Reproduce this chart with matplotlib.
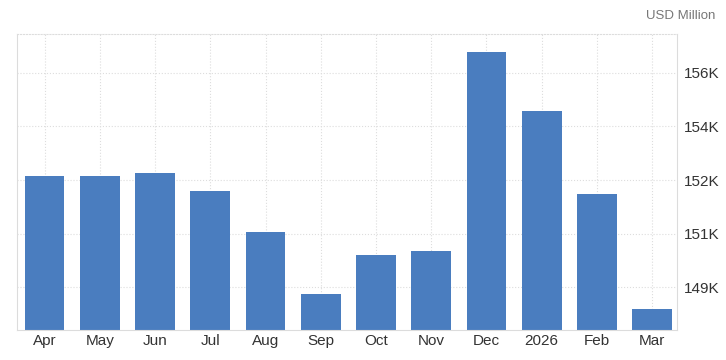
import matplotlib
matplotlib.use('Agg')
import matplotlib.pyplot as plt

# data (USD Million, thousands)
months = ['Apr', 'May', 'Jun', 'Jul', 'Aug', 'Sep', 'Oct', 'Nov', 'Dec', '2026', 'Feb', 'Mar']
values = [152.53, 152.53, 152.62, 152.05, 150.75, 148.79, 150.02, 150.15, 156.46, 154.59, 151.96, 148.31]
ytick_vals = [149.0, 150.7, 152.4, 154.1, 155.8]
ytick_labels = ['149K', '151K', '152K', '154K', '156K']

plt.rcParams['font.family'] = ['Liberation Sans', 'DejaVu Sans']

fig = plt.figure(figsize=(7.26, 3.6), dpi=100)
ax = fig.add_axes([0.0234, 0.0833, 0.9091, 0.8223])

x = range(len(months))
ax.bar(x, values, width=0.72, color='#4a7dbf', zorder=2)

ax.set_xlim(-0.5, 11.45)
ax.set_ylim(147.65, 157.03)
ax.set_xticks(list(x))
ax.set_xticklabels(months)
ax.set_yticks(ytick_vals)
ax.set_yticklabels(ytick_labels)
ax.yaxis.tick_right()
ax.tick_params(axis='both', length=0, labelsize=11, colors='#333333')
ax.tick_params(axis='y', pad=5)
ax.tick_params(axis='x', pad=3)

ax.grid(True, linestyle=':', color='#dddddd', linewidth=0.8, zorder=0)
for side in ['left', 'right', 'bottom']:
    ax.spines[side].set_color('#dcdcdc')
ax.spines['top'].set_color('#dddddd')
ax.spines['top'].set_linestyle(':')

fig.text(0.985, 0.955, 'USD Million', ha='right', va='center', fontsize=9.5, color='#777777')

fig.savefig('out.png', dpi=100)
